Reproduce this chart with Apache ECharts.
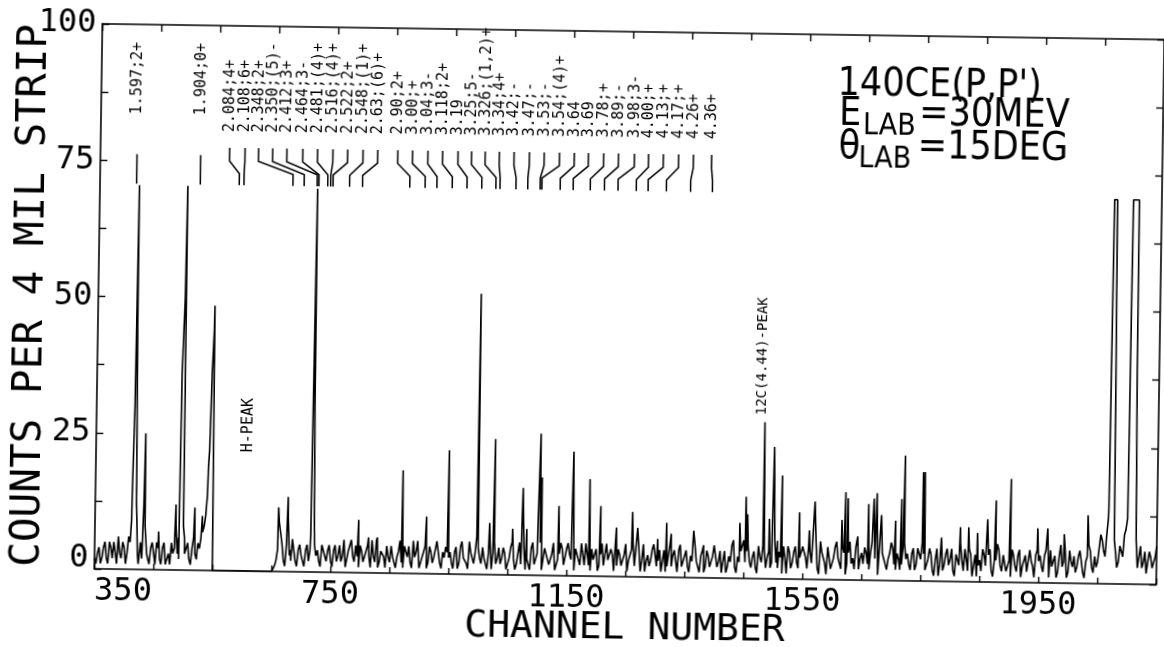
<!DOCTYPE html>
<html>
<head>
<meta charset="utf-8">
<script src="https://cdn.jsdelivr.net/npm/echarts@6.0.0/dist/echarts.min.js"></script>
<style>
html,body{margin:0;padding:0;background:#fff;overflow:hidden;}
#chart{width:1164px;height:647px;transform:rotate(0.85deg);transform-origin:50% 50%;}
</style>
</head>
<body>
<div id="chart"></div>
<script>
// ---------------- DATA ----------------
// background spectrum, one value every 5 channels starting at channel 350
const noiseStart = 350;
const noiseStep = 5;
const noiseCounts = [
  2,
  3,1,4,2,5,2,3,6,2,4, 3,5,30,12,2,2,8,2,4,3,        // 355-450
  5,2,4,1,3,5,4,3,40,8, 4,2,4,3,5,6,8,14,36,0,       // 455-550
  0,0,0,0,0,0,0,0,0,0, 0,0,0,0,0,0,0,0,0,0,          // 555-650
  1,4,3,2,5,3,6,2,4,3, 1,5,4,30,3,2,5,3,4,2,         // 655-750
  4,2,5,3,1,4,6,2,3,5, 2,4,3,6,2,1,4,3,5,2,          // 755-850
  3,1,4,2,5,3,2,6,4,1, 3,5,2,4,3,6,2,4,5,3,          // 855-950
  2,4,1,5,3,2,6,3,4,5, 2,3,1,6,4,2,5,3,4,2,          // 955-1050
  5,3,2,6,4,1,3,5,2,4, 6,3,5,2,4,1,3,6,2,5,          // 1055-1150
  4,2,5,3,6,2,4,1,3,5, 2,6,4,3,5,1,2,4,3,6,          // 1155-1250
  3,5,2,4,1,6,3,2,5,4, 3,1,5,2,6,4,3,5,2,4,          // 1255-1350
  2,4,6,3,1,5,2,4,3,6, 2,5,3,1,4,6,2,4,5,7,          // 1355-1450
  5,3,4,2,6,3,5,4,2,6, 3,5,1,4,6,2,5,3,4,6,          // 1455-1550
  4,6,3,5,2,7,4,1,5,3, 6,4,2,5,3,7,4,6,2,5,          // 1555-1650
  6,3,5,4,2,6,5,3,4,7, 3,5,2,6,4,3,5,2,6,4,          // 1655-1750
  5,3,6,2,4,1,5,3,6,4, 2,5,3,4,6,2,5,3,1,4,          // 1755-1850
  6,3,5,2,4,7,3,5,2,4, 6,3,5,1,4,2,6,3,5,4,          // 1855-1950
  3,5,2,6,4,1,5,3,6,2, 4,5,3,6,2,4,7,3,5,4,          // 1955-2050
  9,6,9,70.5,70.5,6,4,6,9,12, 70.5,70.5,8,5,3,6,4,5,3,7 // 2055-2150
];
// in-between background samples, channels 352.5, 357.5, ... 2147.5
const noiseStart2 = 352.5;
const noiseCounts2 = [
  1,4,2,5,1,4,5,1,3,5, 1,6,14,45,3,5,12,4,1,5,       // 352.5-447.5
  1,4,1,5,2,1,3,8,2,50, 3,5,1,6,2,4,7,10,22,44,      // 452.5-547.5
  0,0,0,0,0,0,0,0,0,0, 0,0,0,0,0,0,0,0,0,0,          // 552.5-647.5
  0,2,9,5,1,10,2,4,1,5, 2,4,2,40,5,4,1,4,2,5,        // 652.5-747.5
  1,5,3,2,6,1,4,3,5,1, 4,2,5,1,3,6,2,4,1,3,          // 752.5-847.5
  5,2,3,6,1,4,5,1,3,6, 2,4,1,5,2,3,6,1,3,4,          // 852.5-947.5
  4,1,5,2,6,3,1,4,2,7, 3,5,2,4,1,6,3,2,5,1,          // 952.5-1047.5
  3,6,1,4,2,5,3,1,6,2, 4,1,5,3,2,6,1,4,5,2,          // 1052.5-1147.5
  6,3,1,5,2,4,6,2,5,3, 1,4,2,6,3,4,1,5,2,4,          // 1152.5-1247.5
  1,4,6,2,5,3,1,4,3,6, 2,5,3,1,4,2,5,1,6,3,          // 1252.5-1347.5
  5,1,3,6,2,4,1,5,2,4, 6,3,1,5,2,3,7,1,3,5,          // 1352.5-1447.5
  3,6,2,5,1,4,6,2,5,3, 7,2,4,6,1,5,3,6,2,4,          // 1452.5-1547.5
  6,2,5,3,7,1,5,3,6,2, 4,7,3,6,1,5,3,2,6,4,          // 1552.5-1647.5
  3,5,2,7,4,1,6,4,2,5, 6,2,4,3,7,5,2,6,3,5,          // 1652.5-1747.5
  7,2,4,5,1,6,3,2,5,3, 6,1,4,7,2,4,6,1,5,3,          // 1752.5-1847.5
  2,5,3,6,1,4,6,2,5,3, 1,5,2,6,3,5,2,4,1,6,          // 1852.5-1947.5
  5,2,6,1,3,5,2,7,4,1, 6,3,2,5,4,1,5,6,2,3,          // 1952.5-2047.5
  4,8,5,12,70.5,20,3,7,5,10, 70.5,70.5,40,3,7,4,2,6,3,5 // 2052.5-2147.5
];

// sharp peaks
const peakChannels = [
  412,417,421,424,434,438,458,487,492,494,499,502,519,524,532,536,541,548,
  661,665,677,682,716,719,722,797,814,829,871,912,949,999,1019,1027,1058,1075,1082,
  1104,1107,1136,1160,1188,1207,1234,1261,1270,1304,1319,1327,
  1365,1382,1443,1453,1456,1483,1493,1500,1507,1514,1544,1561,1570,1595,1616,1622,1626,
  1643,1661,1670,1675,1683,1707,1717,1722,1753,1756,1785,1817,1831,1846,1863,1877,1902,
  1948,1965,1993,2033,2068,2078,2102,2112
];
const peakCounts = [
  9,70.5,9,1,25,3,7,12,6,36,70.5,6,11.5,4,10,8,19,48.6,
  11.8,8.7,13.7,4,7,70.3,7.8,9.7,6.5,6.5,18.9,10.5,22.7,51.5,9.5,24.9,8.5,16,8.5,
  26,18,12.8,22.8,17.8,12.9,9,11.9,9,7,10,8,
  8.6,6,10.2,15,11.8,28.7,11,24.2,7,19,12.3,9,14.3,6.3,11,16.1,15,
  8,14,15,16,12,11,15,23,20,20,8,10,10,9,11.5,15,19,
  10,10,9,12.5,14,8,70.5,70.5
];

// axis tick labels
const xTickLabels = [350, 750, 1150, 1550, 1950];
const yTickLabels = [0, 25, 50, 75, 100];

// level identifications at the top
const soloLabels = ['1.597;2+', '1.904;0+'];
const soloChannels = [412, 520];
const groupLabels = [
  '2.084;4+','2.108;6+','2.348;2+','2.350;(5)-','2.412;3+','2.464;3-','2.481;(4)+','2.516;(4)+',
  '2.522;2+','2.548;(1)+','2.63;(6)+',
  '2.90;2+','3.00;+','3.04;3-','3.118;2+','3.19','3.25;5-','3.326;(1,2)+','3.34;4+','3.42;-',
  '3.47;-','3.53;-','3.54;(4)+','3.64','3.69','3.78;+','3.89;-','3.98;3-','4.00;+','4.13;+',
  '4.17;+','4.26+','4.36+'
];
const groupLabelChannels = [
  569,595,618,642,666,693,718,744,769,795,820,
  854,879,905,930,956,979,1002,1026,1051,1077,1102,1128,1153,1177,1203,1228,1255,1279,1304,1330,1355,1386
];
const groupPeakChannels = [
  586,594,677,696,718,721,736,741,745,773,795,
  875,901,921,947,972,997,1021,1028,1055,1075,1096,1099,1130,1152,1181,1205,1228,1259,1279,1310,1351,1388
];

// in-plot annotations
const annoLabels = ['H-PEAK', '12C(4.44)-PEAK'];
const annoChannels = [607, 1478];
const annoCounts = [21.8, 30];

// ---------------- BUILD ----------------
const pts = new Map();
noiseCounts.forEach((c, i) => pts.set(noiseStart + i * noiseStep, c));
noiseCounts2.forEach((c, i) => pts.set(noiseStart2 + i * noiseStep, c));
peakChannels.forEach((ch, i) => pts.set(ch, peakCounts[i]));
const spectrum = Array.from(pts.entries()).sort((a, b) => a[0] - b[0]);

// leader line levels (count units)
const SOLO_TEXT = 83.5, SOLO_TOP = 76.2;
const GROUP_TEXT = 80.5, L_TOP = 77.6, L_B1 = 75.2, L_B2 = 72.9, L_BOT = 70.8;

const leaders = [];
soloChannels.forEach(ch => leaders.push({coords: [[ch, SOLO_TOP], [ch, L_BOT]]}));
groupLabelChannels.forEach((ch, i) => {
  const t = groupPeakChannels[i];
  leaders.push({coords: [[ch, L_TOP], [ch, L_B1], [t, L_B2], [t, L_BOT]]});
});

// vertical texts: [channel, count, index into textItems]
const textItems = [];
soloLabels.forEach((s, i) => textItems.push({text: s, ch: soloChannels[i], y: SOLO_TEXT, size: 15}));
groupLabels.forEach((s, i) => textItems.push({text: s, ch: groupLabelChannels[i], y: GROUP_TEXT, size: 15}));
annoLabels.forEach((s, i) => textItems.push({text: s, ch: annoChannels[i], y: annoCounts[i], size: i === 0 ? 15 : 14}));
const textData = textItems.map((t, i) => [t.ch, t.y, i]);

const MONO = "'DejaVu Sans Mono','Liberation Mono',monospace";
const NARROW = "'Liberation Sans Narrow','DejaVu Sans Condensed','Liberation Sans',sans-serif";
const BLACK = '#000';

const frameLine = {show: true, onZero: false, lineStyle: {color: BLACK, width: 1.6}};

const option = {
  animation: false,
  backgroundColor: '#fff',
  grid: {left: 98, right: 4, top: 31, bottom: 71, containLabel: false, outerBoundsMode: 'none'},
  xAxis: [
    {
      type: 'value', position: 'bottom', min: 350, max: 2150, interval: 100,
      axisLine: frameLine,
      axisTick: {show: true, inside: true, length: 6, lineStyle: {color: BLACK, width: 1.4}},
      splitLine: {show: false},
      axisLabel: {
        show: true, margin: 7, color: BLACK, fontFamily: MONO, fontSize: 32,
        formatter: v => xTickLabels.indexOf(v) < 0 ? '' : (v === xTickLabels[0] ? '{first|' + v + '}' : String(v)),
        rich: {first: {fontFamily: MONO, fontSize: 32, color: BLACK, padding: [0, 0, 0, 58]}}
      },
      name: 'CHANNEL NUMBER', nameLocation: 'middle', nameGap: 33, nameMoveOverlap: false,
      nameTextStyle: {fontFamily: MONO, fontSize: 38, color: BLACK}
    },
    {
      type: 'value', position: 'top', min: 350, max: 2150, interval: 100,
      axisLine: frameLine,
      axisTick: {show: true, inside: true, length: 7, lineStyle: {color: BLACK, width: 1.4}},
      splitLine: {show: false},
      axisLabel: {show: false}
    }
  ],
  yAxis: [
    {
      type: 'value', position: 'left', min: 0, max: 100, interval: 12.5,
      axisLine: frameLine,
      axisTick: {show: true, inside: true, length: 7, lineStyle: {color: BLACK, width: 1.4}},
      splitLine: {show: false},
      axisLabel: {
        show: true, margin: 6, color: BLACK, fontFamily: MONO, fontSize: 32,
        formatter: v => yTickLabels.indexOf(v) < 0 ? '' : (v === 0 ? '{zero|0}' : String(v)),
        rich: {zero: {fontFamily: MONO, fontSize: 32, color: BLACK, padding: [0, 0, 20, 0]}}
      },
      name: 'COUNTS PER 4 MIL STRIP', nameLocation: 'middle', nameGap: 46, nameMoveOverlap: false,
      nameTextStyle: {fontFamily: MONO, fontSize: 41, color: BLACK}
    },
    {
      type: 'value', position: 'right', min: 0, max: 100, interval: 12.5,
      axisLine: frameLine,
      axisTick: {show: true, inside: true, length: 7, lineStyle: {color: BLACK, width: 1.4}},
      splitLine: {show: false},
      axisLabel: {show: false}
    }
  ],
  graphic: [
    {type: 'text', left: 834, top: 61, style: {text: "140CE(P,P')", fontFamily: NARROW, fontSize: 39, fill: BLACK}},
    {type: 'text', left: 836, top: 91, style: {text: 'E', fontFamily: NARROW, fontSize: 39, fill: BLACK}},
    {type: 'text', left: 860, top: 107, style: {text: 'LAB', fontFamily: NARROW, fontSize: 30, fill: BLACK}},
    {type: 'text', left: 916, top: 90, style: {text: '=30MEV', fontFamily: NARROW, fontSize: 39, fill: BLACK}},
    {type: 'text', left: 836, top: 124, style: {text: 'θ', fontFamily: NARROW, fontSize: 39, fill: BLACK}},
    {type: 'text', left: 856, top: 140, style: {text: 'LAB', fontFamily: NARROW, fontSize: 30, fill: BLACK}},
    {type: 'text', left: 915, top: 123, style: {text: '=15DEG', fontFamily: NARROW, fontSize: 39, fill: BLACK}}
  ],
  series: [
    {
      type: 'line', name: 'spectrum', data: spectrum, xAxisIndex: 0, yAxisIndex: 0,
      symbol: 'none', showSymbol: false, clip: true, z: 2,
      lineStyle: {color: BLACK, width: 1.6}
    },
    {
      type: 'lines', coordinateSystem: 'cartesian2d', polyline: true, data: leaders,
      xAxisIndex: 0, yAxisIndex: 0, silent: true, z: 3,
      lineStyle: {color: BLACK, width: 1.5, opacity: 1, curveness: 0}
    },
    {
      type: 'custom', coordinateSystem: 'cartesian2d', xAxisIndex: 0, yAxisIndex: 0,
      silent: true, clip: false, z: 4, data: textData,
      renderItem: function (params, api) {
        const p = api.coord([api.value(0), api.value(1)]);
        const item = textItems[api.value(2)];
        return {
          type: 'text', x: p[0], y: p[1], rotation: Math.PI / 2,
          style: {
            text: item.text, fontFamily: MONO, fontSize: item.size, fill: BLACK,
            align: 'left', verticalAlign: 'middle'
          }
        };
      }
    }
  ]
};

const chart = echarts.init(document.getElementById('chart'), null, {renderer: 'canvas'});
chart.setOption(option);
</script>
</body>
</html>
